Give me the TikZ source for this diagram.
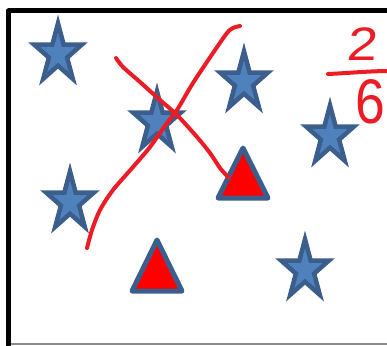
\documentclass[tikz,border=0pt]{standalone}
\usepackage{fontspec}
\setmainfont{Liberation Sans}
\definecolor{starfill}{HTML}{4F81BD}
\definecolor{starline}{HTML}{3B5E8C}
\definecolor{ink}{HTML}{ED1C24}
\tikzset{
  bluestar/.style={fill=starfill, draw=starline, line width=4.5pt, line join=miter, miter limit=10},
  redtri/.style={fill=red, draw=starline, line width=5pt, line join=round},
  pen/.style={draw=ink, line width=4pt, line cap=round, line join=round},
  frame/.style={draw=black, line width=5pt, line join=round},
  inkdigit/.style={text=ink, inner sep=0pt, anchor=base},
  pics/pstar/.style={code={
    \path[bluestar] (-90:30.7) -- (-126:11.7) -- (-162:30.7) -- (-198:11.7) -- (-234:30.7)
      -- (-270:11.7) -- (-306:30.7) -- (-342:11.7) -- (-18:30.7) -- (-54:11.7) -- cycle;
  }}
}
\begin{document}
\begin{tikzpicture}[x=1pt,y=-1pt]
\useasboundingbox (0,0) rectangle (387,345);
% frame
\draw[draw=gray!90, line width=1.2pt] (9,344) -- (387,344);
\draw[frame] (387,11) -- (8.5,11) -- (8.5,346);
% stars
\pic[xscale=0.82] at (58,54) {pstar};
\pic[xscale=0.82] at (157,122) {pstar};
\pic[xscale=0.82] at (244,82) {pstar};
\pic[xscale=0.82] at (330,136) {pstar};
\pic[xscale=0.82] at (70,202) {pstar};
\pic[xscale=0.82] at (305,270) {pstar};
% triangles
\path[redtri] (243,148) -- (268,198) -- (218,198) -- cycle;
\path[redtri] (157,240) -- (182,291) -- (132,291) -- cycle;
% pen strokes
\path[pen] plot[smooth, tension=0.5] coordinates {(87,248) (92,230) (100,210) (113,190) (133,167) (150,147) (167,123) (177,110) (193,83) (213,53) (227,33) (233,28) (240,26)};
\path[pen] plot[smooth, tension=0.5] coordinates {(116,58) (123,67) (140,82) (160,100) (177,115) (197,137) (210,153) (220,168) (228,177)};
% fraction
\node[inkdigit, font=\fontsize{47}{47}\selectfont, xslant=0.1, xscale=1.15] (two) at (362,60) {2};
\path[pen] (328,74) .. controls (350,73) and (370,71) .. (390,71);
\node[inkdigit, font=\fontsize{63}{63}\selectfont, xscale=0.85] (six) at (370,123) {6};
\end{tikzpicture}
\end{document}
